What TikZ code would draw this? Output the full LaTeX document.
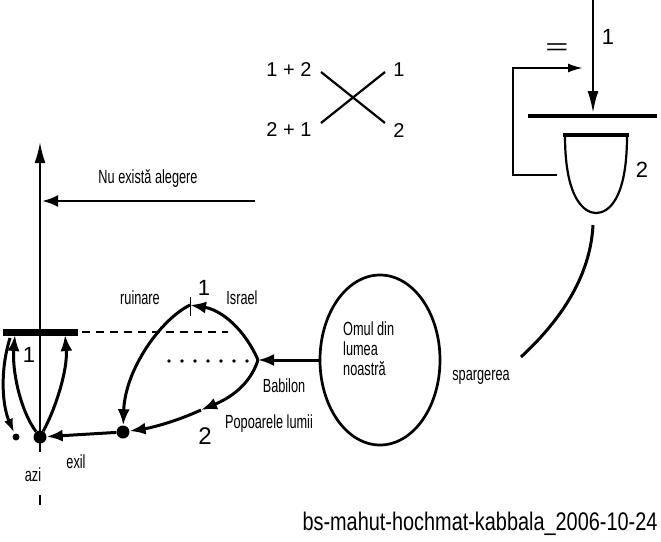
\documentclass[tikz,border=0pt]{standalone}
\usepackage{fontspec}
\setmainfont{Liberation Sans}
\newfontfamily\wordfont[FakeStretch=0.67]{Liberation Sans}
\newfontfamily\footfont[FakeStretch=0.78]{Liberation Sans}
\usetikzlibrary{arrows.meta,shapes.geometric}
\tikzset{
    word/.style={font=\wordfont\fontsize{19}{20}\selectfont, inner sep=0pt},
    num/.style={font=\fontsize{22}{24}\selectfont, inner sep=0pt},
    curve/.style={line width=3pt},
    bigtip/.style={-{Latex[length=16pt,width=12pt]}},
    smalltip/.style={-{Latex[length=15pt,width=9pt]}},
    bigdot/.style={circle, fill, inner sep=0pt, minimum size=13pt},
    smalldot/.style={circle, fill, inner sep=0pt, minimum size=7pt},
}

\begin{document}
\begin{tikzpicture}[x=1pt, y=-1pt]
    \useasboundingbox (0,0) rectangle (661,541);
    % The axis of time on the left.
        \coordinate (axtop) at (40,142);
        \node[bigdot] (azi) at (40,437) {};
        \node[smalldot] (low) at (16,437) {};
        \node[bigdot] (exil) at (123,432) {};
        \draw[line width=2.2pt, -{Latex[length=21pt,width=11pt]}] (40,452) -- (axtop);
        \draw[line width=2.2pt] (40,495) -- (40,505);
        \coordinate (nuend) at (255,201);
        \draw[line width=2.7pt, bigtip] (nuend) -- (42,201);
        \draw[line width=7pt] (3,332) -- (78,332);
        \draw[line width=1.6pt, dash pattern=on 8pt off 6pt] (82,332) -- (228,332);
    % Up and down around the bar.
        \draw[curve, bigtip] (azi) .. controls (20,410) and (12,370) .. (15,335);
        \draw[curve, bigtip] (azi) .. controls (55,410) and (68,370) .. (65,335);
        \draw[curve, smalltip] (10,338) .. controls (0,370) and (2,405) .. (low);
    % The two ways out of Babilon.
        \coordinate (V) at (258,360);
        \coordinate (T) at (190,305);
        \coordinate (mid) at (201,410);
        \draw[curve, bigtip] (V) .. controls (245,330) and (222,310) .. (T);
        \draw[curve, bigtip] (T) .. controls (160,320) and (125,370) .. (exil);
        \draw[curve, bigtip] (V) .. controls (250,385) and (230,398) .. (mid);
        \draw[curve, bigtip] (mid) .. controls (175,422) and (150,428) .. (exil);
        \draw[curve, bigtip] (exil) -- (azi);
        \draw[line width=1pt] (190,297) -- (190,316);
        \foreach \i in {0,...,6}
            \fill (169+\i*13,361) circle (1.8pt);
    % The man of our world.
        \node[ellipse, draw, line width=2.7pt, minimum width=120pt, minimum height=170pt, inner sep=0pt] (omul) at (380,360) {};
        \node[word, anchor=west, align=left] (omultext) at (343,349) {Omul din\\lumea\\noastră};
        \draw[curve, bigtip] (omul.west) -- (V);
    % The cross of the top.
        \draw[line width=2.2pt] (321,72) -- (385,123);
        \draw[line width=2.2pt] (321,123) -- (385,72);
    % The vessel on the right.
        \draw[line width=2.2pt, -{Latex[length=22pt,width=11pt]}] (593,0) -- (593,113);
        \draw[line width=4.5pt] (528,116) -- (657,116);
        \draw[line width=4.5pt] (563,135) -- (629,135);
        \draw[line width=2.2pt] (565,136) .. controls (565,200) and (585,213) .. (596,213) .. controls (608,213) and (627,200) .. (627,136);
        \draw[line width=2.2pt, -{Latex[length=15pt,width=9pt]}] (557,175) -| (513,68) -- (583,68);
        \draw[curve] (593,225) .. controls (590,285) and (550,330) .. (521,357);
    % Below nodes are the labels.
        \node[word] (nu) at (148,178) {Nu există alegere};
        \node[word] (ruin) at (140,298) {ruinare};
        \node[num] (one) at (204,288) {1};
        \node[word] (isr) at (242,298) {Israel};
        \node[word] (bab) at (284,386) {Babilon};
        \node[word] (pop) at (269,424) {Popoarele lumii};
        \node[num, font=\fontsize{24}{26}\selectfont] (two) at (205,436) {2};
        \node[word] (exl) at (76,462) {exil};
        \node[word] (az) at (33,475) {azi};
        \node[num] (oneleft) at (29,355) {1};
        \node[word] (sparg) at (481,377) {spargerea};
        \node[num, font=\fontsize{20}{22}\selectfont] (a) at (289,70) {1 + 2};
        \node[num, font=\fontsize{20}{22}\selectfont] (b) at (289,130) {2 + 1};
        \node[num, font=\fontsize{20}{22}\selectfont] (c) at (399,70) {1};
        \node[num, font=\fontsize{20}{22}\selectfont] (d) at (399,131) {2};
        \node[num] (onetop) at (608,37) {1};
        \node[num] (twotop) at (642,170) {2};
        \node[num] (eq) at (557,49) {\scalebox{1.8}[1]{=}};
        \node[inner sep=0pt, font=\footfont\fontsize{25.5}{28}\selectfont] (foot) at (480,524) {bs-mahut-hochmat-kabbala\_2006-10-24};
\end{tikzpicture}
\end{document}
